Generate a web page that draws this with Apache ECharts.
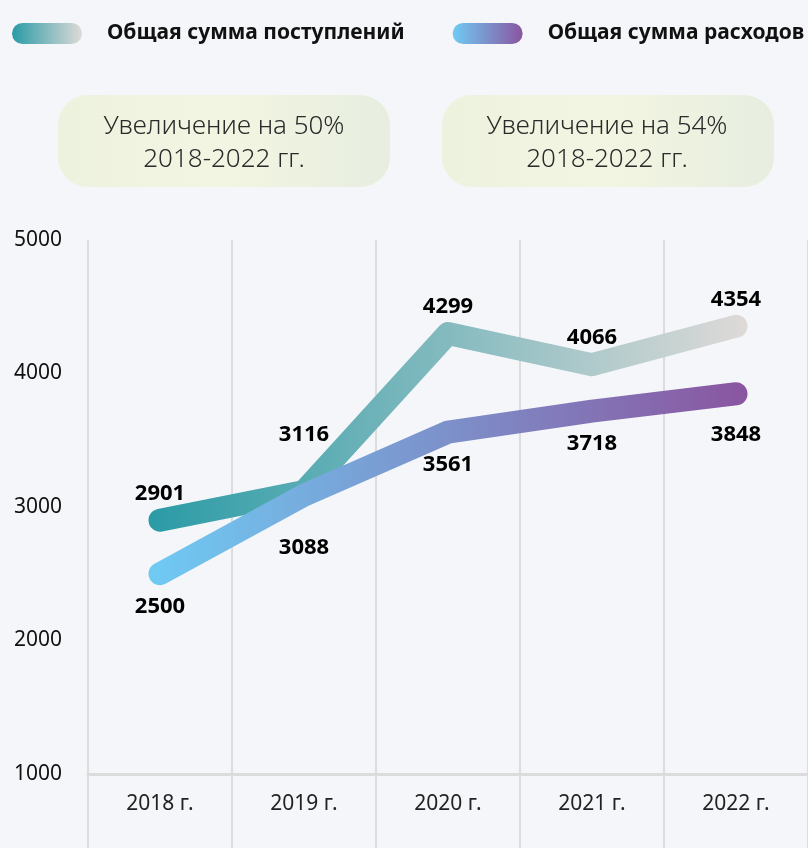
<!DOCTYPE html>
<html>
<head>
<meta charset="utf-8">
<script src="https://cdn.jsdelivr.net/npm/echarts@6/dist/echarts.min.js"></script>
<style>
html,body{margin:0;padding:0;background:#F5F6F9;}
#chart{width:808px;height:848px;}
</style>
</head>
<body>
<div id="chart"></div>
<script>
var categories = ['2018 г.', '2019 г.', '2020 г.', '2021 г.', '2022 г.'];
var incomeValues = [2901, 3116, 4299, 4066, 4354];
var expenseValues = [2500, 3088, 3561, 3718, 3848];
var seriesNames = ['Общая сумма поступлений', 'Общая сумма расходов'];
var noteLines = [['Увеличение на 50%', '2018-2022 гг.'], ['Увеличение на 54%', '2018-2022 гг.']];
var yTicks = {min: 1000, max: 5000, interval: 1000};

var chart = echarts.init(document.getElementById('chart'), null, {renderer: 'canvas'});

function grad(c1, c2) {
  return new echarts.graphic.LinearGradient(0, 0, 1, 0, [{offset: 0, color: c1}, {offset: 1, color: c2}]);
}
var incomeGrad = ['#2A9BA6', '#DEDAD8'];
var expenseGrad = ['#6FCBF4', '#8A55A0'];

var incomeDist = [15, 45, 15, 15, 15];
var expenseDist = [21, 41, 21, 21, 29];

function mkData(vals, pos, dists) {
  return vals.map(function (v, i) {
    return {value: v, label: {position: pos, distance: dists[i]}};
  });
}

var pillPath = 'path://M10.5,0 H59.5 A10.5,10.5 0 0 1 59.5,21 H10.5 A10.5,10.5 0 0 1 10.5,0 Z';

var boxes = [{x: 58, cx: 224}, {x: 442, cx: 607}];
var graphics = [];
boxes.forEach(function (b, i) {
  graphics.push({
    type: 'rect', left: b.x, top: 95, z: 0,
    shape: {width: 332, height: 92, r: 30},
    style: {fill: new echarts.graphic.LinearGradient(0, 0, 1, 0, [
      {offset: 0, color: '#EDF2DF'}, {offset: 0.5, color: '#F2F5E1'}, {offset: 1, color: '#E7EEE0'}])}
  });
  [0, 1].forEach(function (k) {
    graphics.push({
      type: 'text', z: 1,
      style: {text: noteLines[i][k], x: b.cx, y: k === 0 ? 127 : 160, textAlign: 'center', textVerticalAlign: 'middle',
        font: '300 26px "Noto Sans", sans-serif', fill: '#2a2a2a'}
    });
  });
});

var option = {
  backgroundColor: '#F5F6F9',
  animation: false,
  textStyle: {fontFamily: '"Noto Sans", sans-serif'},
  legend: {
    left: 12, top: 23, padding: 0,
    itemWidth: 70, itemHeight: 21, itemGap: 48,
    icon: pillPath,
    textStyle: {fontSize: 21, fontWeight: 'bold', color: '#111', padding: [0, 0, 0, 20]},
    data: [
      {name: seriesNames[0], itemStyle: {color: grad(incomeGrad[0], incomeGrad[1])}},
      {name: seriesNames[1], itemStyle: {color: grad(expenseGrad[0], expenseGrad[1])}}
    ]
  },
  graphic: graphics,
  grid: {left: 88, right: 0, top: 240, bottom: 74},
  xAxis: {
    type: 'category', data: categories, boundaryGap: true,
    axisLine: {show: true, lineStyle: {color: '#DCDCDC', width: 3}},
    axisTick: {show: true, length: 74, lineStyle: {color: '#DCDCDC', width: 2}},
    splitLine: {show: true, lineStyle: {color: '#DCDCDC', width: 2}},
    axisLabel: {margin: 20, fontSize: 21, color: '#222'}
  },
  yAxis: {
    type: 'value', min: yTicks.min, max: yTicks.max, interval: yTicks.interval,
    axisLine: {show: false}, axisTick: {show: false}, splitLine: {show: false},
    axisLabel: {fontSize: 21, color: '#111', align: 'left', margin: 74, formatter: function (v) { return String(v); }}
  },
  series: [
    {
      name: seriesNames[0], type: 'line', data: mkData(incomeValues, 'top', incomeDist),
      symbol: 'circle', symbolSize: 1, showSymbol: true, z: 2,
      lineStyle: {width: 23, cap: 'round', join: 'round', color: grad(incomeGrad[0], incomeGrad[1])},
      itemStyle: {color: 'rgba(0,0,0,0)'},
      label: {show: true, fontSize: 22, fontWeight: 'bold', color: '#000'}
    },
    {
      name: seriesNames[1], type: 'line', data: mkData(expenseValues, 'bottom', expenseDist),
      symbol: 'circle', symbolSize: 1, showSymbol: true, z: 3,
      lineStyle: {width: 23, cap: 'round', join: 'round', color: grad(expenseGrad[0], expenseGrad[1])},
      itemStyle: {color: 'rgba(0,0,0,0)'},
      label: {show: true, fontSize: 22, fontWeight: 'bold', color: '#000'}
    }
  ]
};
chart.setOption(option);
</script>
</body>
</html>
